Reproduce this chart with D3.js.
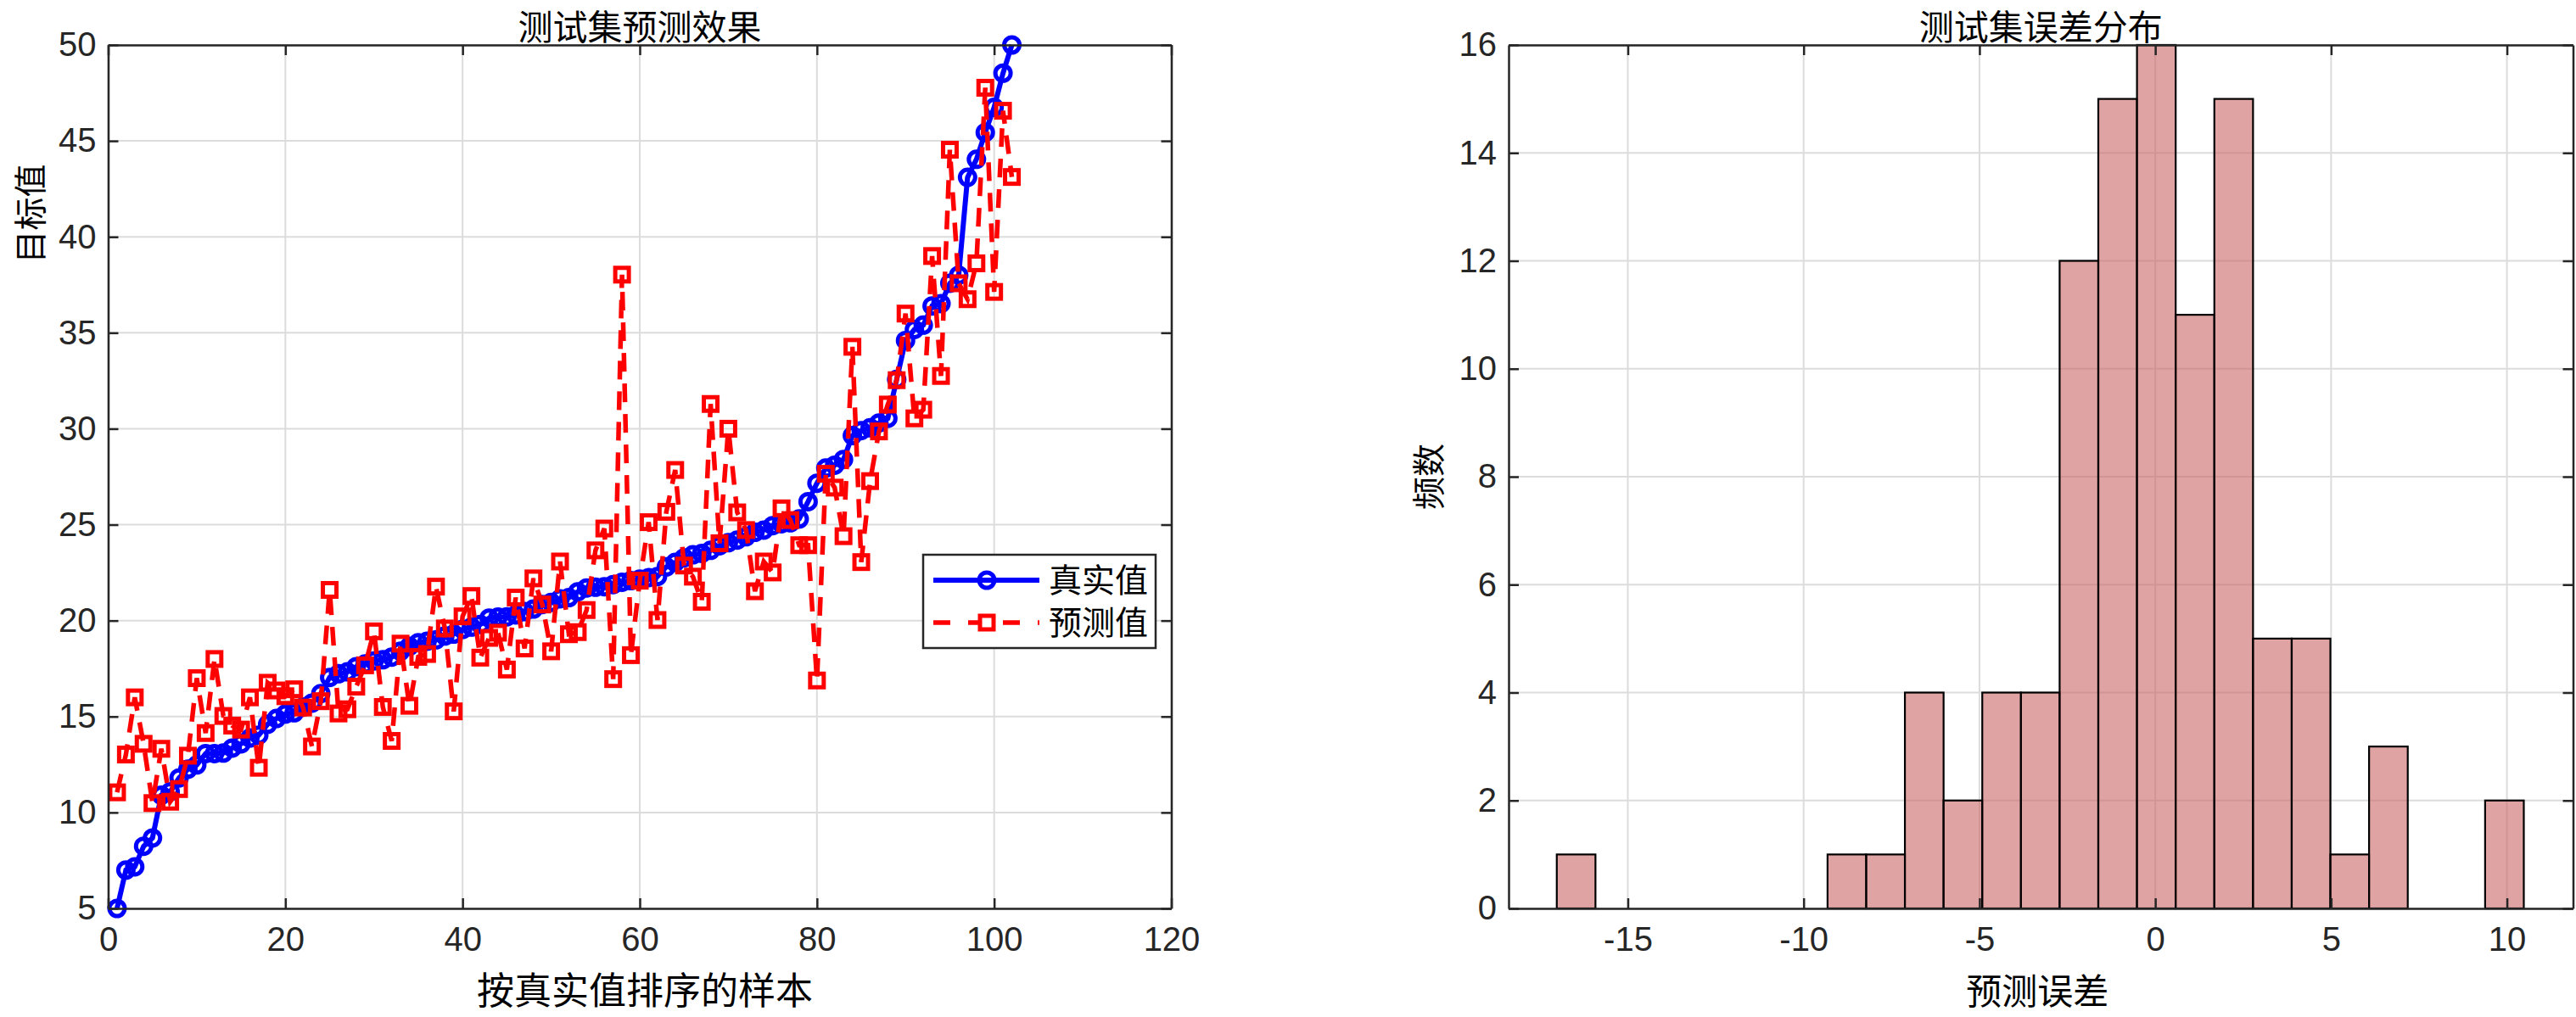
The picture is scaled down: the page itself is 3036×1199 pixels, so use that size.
<!DOCTYPE html>
<html><head><meta charset="utf-8">
<script src="https://cdn.jsdelivr.net/npm/d3@7"></script>
<style>
html,body{margin:0;padding:0;background:#fff;}
svg{display:block;}
</style></head>
<body><svg id="chart" width="3036" height="1199"></svg>
<script>
// ---------------- data ----------------
const trueValues = [5.0,7.0,7.17,8.24,8.67,10.9,11.08,11.8,12.26,12.48,
13.07,13.07,13.1,13.36,13.58,13.88,14.03,14.6,14.9,15.13,
15.2,15.5,15.7,16.2,17.04,17.23,17.33,17.6,17.74,17.9,
17.96,18.1,18.4,18.66,18.85,18.92,19.0,19.2,19.3,19.54,
19.66,19.8,20.13,20.18,20.2,20.3,20.47,20.6,20.84,20.95,
21.14,21.2,21.5,21.7,21.74,21.77,21.88,22.0,22.08,22.16,
22.24,22.3,22.8,23.03,23.27,23.43,23.5,23.66,23.9,24.06,
24.2,24.37,24.6,24.72,24.95,25.05,25.1,25.3,26.2,27.16,
27.95,28.1,28.4,29.64,29.9,30.05,30.3,30.54,32.57,34.6,
35.17,35.4,36.4,36.52,37.58,38.0,43.1,44.04,45.44,46.75,
48.53,50.0];
const predValues = [11.05,13.02,16.0,13.58,10.49,13.32,10.56,11.22,12.96,17.0,
14.14,18.0,15.03,14.53,14.32,16.0,12.33,16.76,16.36,16.06,
16.42,15.47,13.44,15.8,21.6,15.16,15.38,16.56,17.67,19.44,
15.5,13.73,18.8,15.56,18.11,18.26,21.77,19.59,15.27,20.22,
21.28,18.07,19.1,19.37,17.45,21.2,18.55,22.2,20.84,18.4,
23.08,19.29,19.4,20.55,23.66,24.8,16.95,38.03,18.2,22.08,
25.13,20.03,25.67,27.85,22.87,22.29,20.98,31.29,24.03,30.0,
25.64,24.72,21.53,23.08,22.51,25.85,25.24,23.93,23.93,16.88,
27.65,26.93,24.4,34.27,23.05,27.27,29.86,31.26,32.53,36.0,
30.54,30.99,39.0,32.75,44.54,37.58,36.75,38.62,47.77,37.13,
46.57,43.12];
const sampleIndex = trueValues.map((d,i)=>i+1);

const binStart = -17.02;
const binWidth = 1.1;
const binCounts = [1,0,0,0,0,0,0,1,1,4,2,4,4,12,15,16,11,15,5,5,1,3,0,0,2];

const leftXTicks = [0,20,40,60,80,100,120];
const leftYTicks = [5,10,15,20,25,30,35,40,45,50];
const rightXTicks = [-15,-10,-5,0,5,10];
const rightYTicks = [0,2,4,6,8,10,12,14,16];

const txt = {
  leftTitle: "测试集预测效果",
  leftX: "按真实值排序的样本",
  leftY: "目标值",
  rightTitle: "测试集误差分布",
  rightX: "预测误差",
  rightY: "频数",
  legTrue: "真实值",
  legPred: "预测值"
};

// ---------------- drawing ----------------
const svg = d3.select("#chart");
const AX = "#262626", GRID = "#dcdcdc";
const NUMFONT = '"Liberation Sans", Arial, sans-serif';
const CJK = '"Noto Sans CJK SC", sans-serif';
const TICKFS = 40;

function frame(g, x, y, xt, yt) {
  const [x0,x1] = x.range(), [y0,y1] = y.range();
  g.append("g").selectAll("line").data(xt).join("line")
    .attr("x1",d=>x(d)).attr("x2",d=>x(d)).attr("y1",y0).attr("y2",y1)
    .attr("stroke",GRID).attr("stroke-width",2);
  g.append("g").selectAll("line").data(yt).join("line")
    .attr("x1",x0).attr("x2",x1).attr("y1",d=>y(d)).attr("y2",d=>y(d))
    .attr("stroke",GRID).attr("stroke-width",2);
}
function axesOverlay(g, x, y, xt, yt) {
  const [x0,x1] = x.range(), [y0,y1] = y.range();
  const tl = 12;
  const xb = d3.axisBottom(x).tickValues(xt).tickSizeInner(-tl).tickSizeOuter(0).tickPadding(22);
  const xtop = d3.axisTop(x).tickValues(xt).tickSizeInner(-tl).tickSizeOuter(0).tickFormat("");
  const yl = d3.axisLeft(y).tickValues(yt).tickSizeInner(-tl).tickSizeOuter(0).tickPadding(14);
  const yr = d3.axisRight(y).tickValues(yt).tickSizeInner(-tl).tickSizeOuter(0).tickFormat("");
  const style = s => { s.select(".domain").attr("stroke",AX).attr("stroke-width",2.5);
    s.selectAll(".tick line").attr("stroke",AX).attr("stroke-width",2.5);
    s.selectAll(".tick text").attr("fill",AX).style("font-size",TICKFS+"px").style("font-family",NUMFONT); };
  g.append("g").attr("transform",`translate(0,${y0})`).call(xb).call(style);
  g.append("g").attr("transform",`translate(0,${y1})`).call(xtop).call(style);
  g.append("g").attr("transform",`translate(${x0},0)`).call(yl).call(style);
  g.append("g").attr("transform",`translate(${x1},0)`).call(yr).call(style);
  g.selectAll(".tick text").text(function(){ return this.textContent.replace("−","-"); });
}

// ---- left chart ----
const L = {x0:127.5, x1:1380.5, yb:1071, yt:53};
const xL = d3.scaleLinear().domain([0,120]).range([L.x0,L.x1]);
const yL = d3.scaleLinear().domain([5,50]).range([L.yb,L.yt]);
const gL = svg.append("g");
frame(gL, xL, yL, leftXTicks, leftYTicks);

const lineGen = d3.line().x((d,i)=>xL(sampleIndex[i])).y(d=>yL(d));
const BLUE = "#0000ff", RED = "#ff0000";
const plotL = gL.append("g");
plotL.append("path").datum(trueValues).attr("d",lineGen)
  .attr("fill","none").attr("stroke",BLUE).attr("stroke-width",6);
plotL.append("g").selectAll("circle").data(trueValues).join("circle")
  .attr("cx",(d,i)=>xL(sampleIndex[i])).attr("cy",d=>yL(d)).attr("r",9)
  .attr("fill","none").attr("stroke",BLUE).attr("stroke-width",5);
plotL.append("path").datum(predValues).attr("d",lineGen)
  .attr("fill","none").attr("stroke",RED).attr("stroke-width",5.5)
  .attr("stroke-dasharray","22,14");
const SQ = 16;
plotL.append("g").selectAll("rect").data(predValues).join("rect")
  .attr("x",(d,i)=>xL(sampleIndex[i])-SQ/2).attr("y",d=>yL(d)-SQ/2)
  .attr("width",SQ).attr("height",SQ)
  .attr("fill","none").attr("stroke",RED).attr("stroke-width",5);
axesOverlay(gL, xL, yL, leftXTicks, leftYTicks);

// legend
const leg = gL.append("g");
leg.append("rect").attr("x",1088).attr("y",654).attr("width",274).attr("height",110)
  .attr("fill","#fff").attr("stroke",AX).attr("stroke-width",2.5);
leg.append("line").attr("x1",1100).attr("x2",1225).attr("y1",684).attr("y2",684)
  .attr("stroke",BLUE).attr("stroke-width",6);
leg.append("circle").attr("cx",1163).attr("cy",684).attr("r",9)
  .attr("fill","none").attr("stroke",BLUE).attr("stroke-width",5);
leg.append("line").attr("x1",1100).attr("x2",1225).attr("y1",734).attr("y2",734)
  .attr("stroke",RED).attr("stroke-width",5.5).attr("stroke-dasharray","20,21");
leg.append("rect").attr("x",1163-SQ/2).attr("y",734-SQ/2).attr("width",SQ).attr("height",SQ)
  .attr("fill","#fff").attr("stroke",RED).attr("stroke-width",5);
leg.append("text").attr("x",1236).attr("y",698).text(txt.legTrue)
  .style("font-family",CJK).style("font-size","39px").attr("fill","#000");
leg.append("text").attr("x",1236).attr("y",748).text(txt.legPred)
  .style("font-family",CJK).style("font-size","39px").attr("fill","#000");

// titles / labels
svg.append("text").attr("x",(L.x0+L.x1)/2).attr("y",47).attr("text-anchor","middle")
  .style("font-family",CJK).style("font-size","41px").text(txt.leftTitle);
svg.append("text").attr("x",(L.x0+L.x1)/2+6).attr("y",1184).attr("text-anchor","middle")
  .style("font-family",CJK).style("font-size","44px").text(txt.leftX);
svg.append("text").attr("transform","translate(50,252) rotate(-90)").attr("text-anchor","middle")
  .style("font-family",CJK).style("font-size","39px").text(txt.leftY);

// ---- right chart ----
const R = {x0:1778, x1:3032.5, yb:1071, yt:53};
const xR = d3.scaleLinear().domain([-18.39,11.88]).range([R.x0,R.x1]);
const yR = d3.scaleLinear().domain([0,16]).range([R.yb,R.yt]);
const gR = svg.append("g");
frame(gR, xR, yR, rightXTicks, rightYTicks);
const bins = binCounts.map((c,k)=>({x0:binStart+k*binWidth, x1:binStart+(k+1)*binWidth, c}))
  .filter(b=>b.c>0);
gR.append("g").selectAll("rect").data(bins).join("rect")
  .attr("x",d=>xR(d.x0)).attr("width",d=>xR(d.x1)-xR(d.x0))
  .attr("y",d=>yR(d.c)).attr("height",d=>yR(0)-yR(d.c))
  .attr("fill","rgb(204,102,102)").attr("fill-opacity",0.6)
  .attr("stroke","#000").attr("stroke-width",2.2);
axesOverlay(gR, xR, yR, rightXTicks, rightYTicks);

svg.append("text").attr("x",(R.x0+R.x1)/2).attr("y",47).attr("text-anchor","middle")
  .style("font-family",CJK).style("font-size","41px").text(txt.rightTitle);
svg.append("text").attr("x",(R.x0+R.x1)/2-4).attr("y",1184).attr("text-anchor","middle")
  .style("font-family",CJK).style("font-size","42px").text(txt.rightX);
svg.append("text").attr("transform",`translate(1698,${(R.yt+R.yb)/2}) rotate(-90)`).attr("text-anchor","middle")
  .style("font-family",CJK).style("font-size","39px").text(txt.rightY);
</script>
</body></html>
